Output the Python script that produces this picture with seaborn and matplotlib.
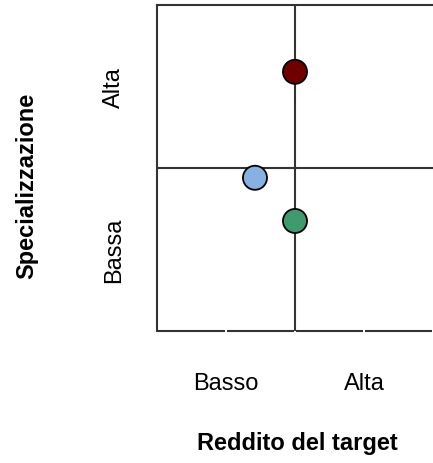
import pandas as pd
import matplotlib.pyplot as plt
import seaborn as sns

sns.set_style("white")
plt.rcParams["font.family"] = ["Liberation Sans", "DejaVu Sans"]
plt.rcParams["text.color"] = "black"
plt.rcParams["xtick.color"] = "black"
plt.rcParams["ytick.color"] = "black"

# positions (x: reddito, y: specializzazione)
names = ["A", "B", "C"]
reddito = [2.0, 1.42, 2.0]
special = [3.18, 1.88, 1.35]
colors = ["#700000", "#86b1e0", "#3f9a6c"]

x_ticks = [1, 3]
x_labels = ["Basso", "Alta"]
y_ticks = [1, 3]
y_labels = ["Bassa", "Alta"]

df = pd.DataFrame({"name": names, "reddito": reddito, "special": special})

fig = plt.figure(figsize=(4.33, 4.64), dpi=100)
ax = fig.add_axes([0.3626, 0.2845, 0.6374, 0.7026])

line_c = "#333333"
ax.axvline(2, color=line_c, lw=1.5, zorder=1)
ax.axhline(2, color=line_c, lw=1.5, zorder=1)

# bottom axis drawn as broken segments
for i in range(4):
    ax.plot([i + 0.015, i + 0.985], [0, 0], color=line_c, lw=1.5,
            solid_capstyle="butt", clip_on=False, zorder=1)

sns.scatterplot(data=df, x="reddito", y="special", hue="name",
                palette=dict(zip(names, colors)), s=300, edgecolor="black",
                linewidth=1.3, legend=False, ax=ax, zorder=3)

ax.set_xlim(0, 4)
ax.set_ylim(0, 4)
ax.set_xticks(x_ticks)
ax.set_xticklabels(x_labels, fontsize=17)
ax.set_yticks(y_ticks)
ax.set_yticklabels(y_labels, fontsize=17, rotation=90, va="center")
ax.tick_params(axis="x", length=0, pad=29.5)
ax.tick_params(axis="y", length=0, pad=23)
ax.set_xlabel("")
ax.set_ylabel("")

for side in ["left", "top"]:
    ax.spines[side].set_color(line_c)
    ax.spines[side].set_linewidth(1.5)
ax.spines["bottom"].set_visible(False)
ax.spines["right"].set_visible(False)

fig.text(0.686, 0.045, "Reddito del target", ha="center", va="center",
         fontsize=17, fontweight="bold")
fig.text(0.061, 0.599, "Specializzazione", ha="center", va="center",
         rotation=90, fontsize=17, fontweight="bold")

fig.savefig("out.png", dpi=100)
